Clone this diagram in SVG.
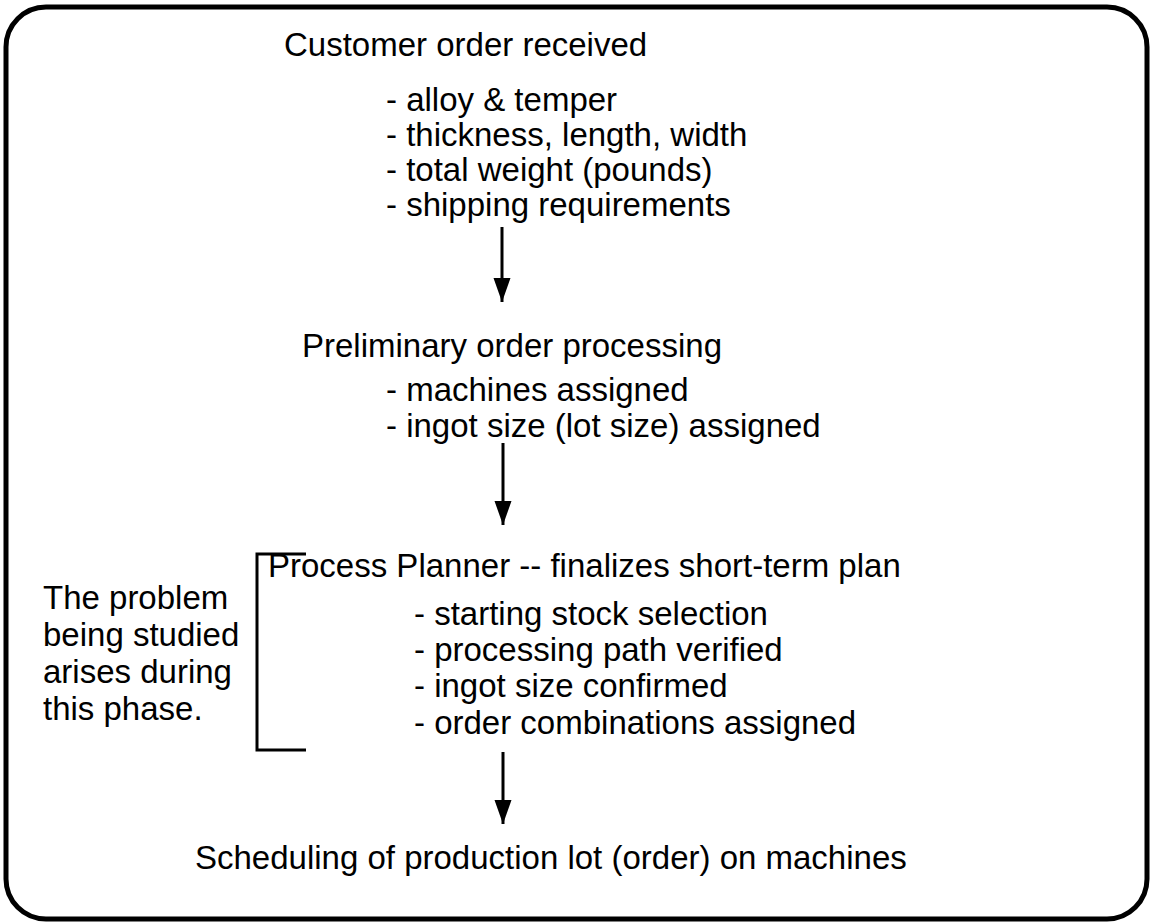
<svg xmlns="http://www.w3.org/2000/svg" width="1152" height="923" viewBox="0 0 1152 923">
  <style>
    text { font-family: "Liberation Sans", Arial, Helvetica, sans-serif; font-size: 33px; fill: #000; }
    .frame { fill: #fff; stroke: #000; stroke-width: 5; }
    .link { stroke: #000; stroke-width: 3; fill: none; }
    .bracket { stroke: #000; stroke-width: 3; fill: none; }
  </style>
  <defs>
    <marker id="arrowhead" markerUnits="userSpaceOnUse" markerWidth="26" markerHeight="18" refX="24" refY="8.5" orient="auto">
      <path d="M0,0 L24,8.5 L0,17 Z" fill="#000"/>
    </marker>
  </defs>

  <!-- outer frame -->
  <rect class="frame" x="6" y="7" width="1141" height="912" rx="40" ry="40"/>

  <g id="customer-order">
    <text x="284" y="56">Customer order received</text>
    <text x="386" y="111">- alloy &amp; temper</text>
    <text x="386" y="146">- thickness, length, width</text>
    <text x="386" y="181">- total weight (pounds)</text>
    <text x="386" y="216">- shipping requirements</text>
  </g>

  <g id="preliminary-processing">
    <text x="302" y="357">Preliminary order processing</text>
    <text x="386" y="401">- machines assigned</text>
    <text x="386" y="437">- ingot size (lot size) assigned</text>
  </g>

  <g id="process-planner">
    <text x="268" y="577">Process Planner -- finalizes short-term plan</text>
    <text x="414" y="625">- starting stock selection</text>
    <text x="414" y="661">- processing path verified</text>
    <text x="414" y="697">- ingot size confirmed</text>
    <text x="414" y="734">- order combinations assigned</text>
  </g>

  <g id="problem-note">
    <text x="43" y="609">The problem</text>
    <text x="43" y="646">being studied</text>
    <text x="43" y="683">arises during</text>
    <text x="43" y="720">this phase.</text>
    <path class="bracket" d="M306,554 H257 V750 H306"/>
  </g>

  <g id="scheduling">
    <text x="195" y="869">Scheduling of production lot (order) on machines</text>
  </g>

  <g id="connectors">
    <line class="link" x1="502" y1="227" x2="502" y2="302" marker-end="url(#arrowhead)"/>
    <line class="link" x1="503" y1="443" x2="503" y2="525" marker-end="url(#arrowhead)"/>
    <line class="link" x1="503" y1="752" x2="503" y2="824" marker-end="url(#arrowhead)"/>
  </g>
</svg>
